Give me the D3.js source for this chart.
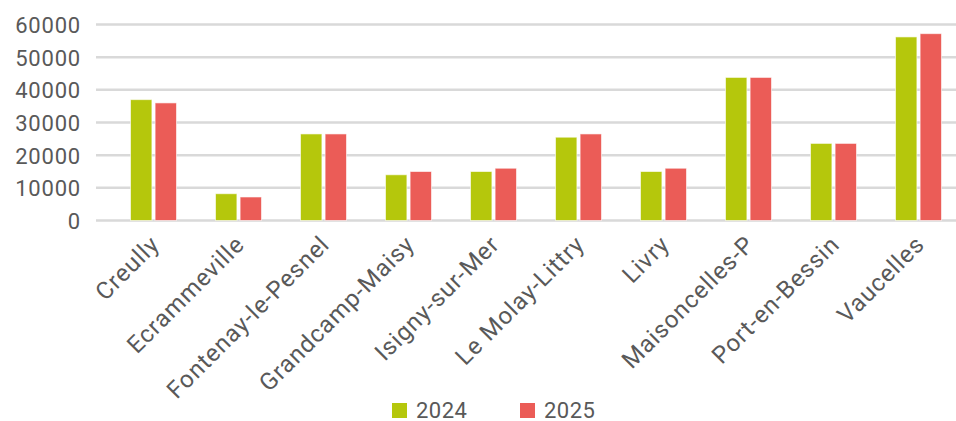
<!DOCTYPE html>
<html>
<head>
<meta charset="utf-8">
<script src="https://cdn.jsdelivr.net/npm/d3@7"></script>
<style>
  body { margin: 0; background: #fff; }
  svg text { font-family: Roboto, "DejaVu Sans", sans-serif; fill: #595959; }
</style>
</head>
<body>
<svg id="chart" width="956" height="421"></svg>
<script>
const communes = ['Creully', 'Ecrammeville', 'Fontenay-le-Pesnel', 'Grandcamp-Maisy',
    'Isigny-sur-Mer', 'Le Molay-Littry', 'Livry', 'Maisoncelles-P', 'Port-en-Bessin', 'Vaucelles'];
const years = ['2024', '2025'];
const values2024 = [37000, 8200, 26500, 14000, 15000, 25500, 15000, 43800, 23600, 56200];
const values2025 = [36000, 7200, 26500, 15000, 16000, 26500, 16000, 43800, 23600, 57200];
const yTicks = [0, 10000, 20000, 30000, 40000, 50000, 60000];
const colors = ['#b5c70c', '#eb5c57'];

const svg = d3.select('#chart');
const width = 956;

const y = d3.scaleLinear().domain([0, 60000]).range([220.5, 24.5]);
const x = d3.scaleBand().domain(communes).range([110.5, 960.5]);
const xInner = d3.scaleBand().domain(years).range([20, 66]).paddingInner(0.13);

// gridlines
svg.append('g')
    .selectAll('line')
    .data(yTicks)
    .join('line')
    .attr('x1', 96)
    .attr('x2', width)
    .attr('y1', d => y(d))
    .attr('y2', d => y(d))
    .attr('stroke', '#d9d9d9')
    .attr('stroke-width', 2.5);

// y labels
const yAxis = d3.axisLeft(y).tickValues(yTicks).tickSize(0).tickPadding(0).tickFormat(d3.format('d'));
svg.append('g')
    .attr('transform', 'translate(81,0)')
    .call(yAxis)
    .call(g => g.select('.domain').remove())
    .selectAll('text')
    .attr('font-size', 22)
    .attr('letter-spacing', '0.8px')
    .attr('fill', '#595959')
    .attr('dy', '0.36em');

// bars
const series = [values2024, values2025];
const groups = svg.append('g')
    .selectAll('g')
    .data(communes)
    .join('g')
    .attr('transform', d => `translate(${x(d)},0)`);

groups.selectAll('rect')
    .data((d, i) => years.map((yr, k) => ({ yr, v: series[k][i], k })))
    .join('rect')
    .attr('x', d => xInner(d.yr))
    .attr('width', xInner.bandwidth())
    .attr('y', d => y(d.v))
    .attr('height', d => y(0) - y(d.v))
    .attr('fill', d => colors[d.k])
    .attr('stroke', '#ffffff')
    .attr('stroke-opacity', 0.6)
    .attr('stroke-width', 1);

// x labels rotated
svg.append('g')
    .selectAll('text')
    .data(communes)
    .join('text')
    .attr('transform', d => `translate(${x(d) + x.bandwidth() / 2 - 4},${234}) rotate(-45)`)
    .attr('text-anchor', 'end')
    .attr('dy', '0.7em')
    .attr('font-size', 24)
    .attr('letter-spacing', '0.9px')
    .text(d => d);

// legend
const legend = svg.append('g')
    .selectAll('g')
    .data(years)
    .join('g')
    .attr('transform', (d, i) => `translate(${392 + i * 128},403)`);
legend.append('rect')
    .attr('width', 15)
    .attr('height', 15)
    .attr('fill', (d, i) => colors[i]);
legend.append('text')
    .attr('x', 24)
    .attr('y', 15)
    .attr('font-size', 22)
    .attr('letter-spacing', '0.5px')
    .text(d => d);
</script>
</body>
</html>
